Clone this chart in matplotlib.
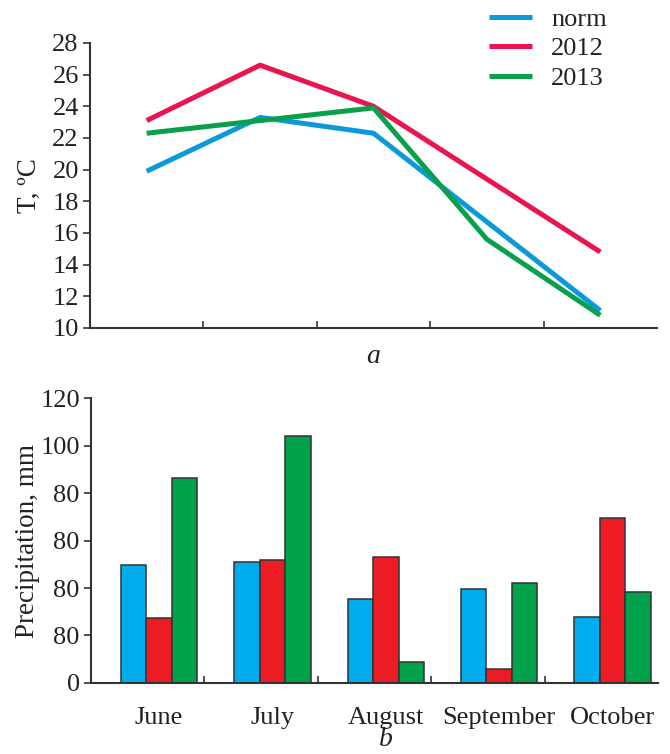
import matplotlib
matplotlib.use("Agg")
import matplotlib.pyplot as plt
import numpy as np

months = ["June", "July", "August", "September", "October"]
series = ["norm", "2012", "2013"]
temp_norm = [19.9, 23.3, 22.3, 16.7, 11.1]
temp_2012 = [23.1, 26.6, 24.0, 19.4, 14.8]
temp_2013 = [22.3, 23.1, 23.9, 15.6, 10.8]
prec_norm = [49.7, 51.1, 35.5, 39.4, 27.7]
prec_2012 = [27.5, 51.7, 53.2, 5.8, 69.3]
prec_2013 = [86.2, 104.0, 9.0, 42.1, 38.4]
temp_ticks = [10, 12, 14, 16, 18, 20, 22, 24, 26, 28]
prec_ticks = [0, 20, 40, 60, 80, 100, 120]
prec_ticklabels = ["0", "80", "80", "80", "80", "100", "120"]

line_colors = ["#0a9ad9", "#e8154f", "#08a04a"]
bar_colors = ["#00adef", "#ed1c24", "#00a14b"]

plt.rcParams["font.family"] = ["Liberation Serif", "DejaVu Serif"]
spine_c = "#333333"
txt_c = "#222222"
FS = 19

fig = plt.figure(figsize=(6.7, 7.54), dpi=100)
ax1 = fig.add_axes([0.1343, 0.565, 0.8463, 0.378])
ax2 = fig.add_axes([0.1358, 0.0942, 0.8462, 0.3778])

x = np.arange(len(months)) + 0.5
for vals, lab, c in zip([temp_norm, temp_2012, temp_2013], series, line_colors):
    ax1.plot(x, vals, color=c, lw=3.6, label=lab, solid_capstyle="butt")

ax1.set_xlim(0, 5)
ax1.set_ylim(10, 28)
ax1.set_yticks(temp_ticks)
ax1.set_xticks([1, 2, 3, 4])
ax1.set_xticklabels([])
ax1.tick_params(axis="x", direction="in", length=5, width=1.2, color=spine_c)
ax1.tick_params(axis="y", direction="out", length=5, width=1.2, color=spine_c,
                labelsize=FS, pad=3, labelcolor=txt_c)
ax1.set_ylabel("T, ºC", fontsize=FS + 0.5, color=txt_c)
ax1.yaxis.set_label_coords(-0.085, 0.5)
for s in ["top", "right"]:
    ax1.spines[s].set_visible(False)
for s in ["left", "bottom"]:
    ax1.spines[s].set_color(spine_c)
    ax1.spines[s].set_linewidth(1.5)

leg = ax1.legend(loc="upper left", bbox_to_anchor=(0.704, 1.125), frameon=False,
                 fontsize=FS, handlelength=1.63, handletextpad=0.72, labelspacing=0.23,
                 borderaxespad=0, borderpad=0)
for t in leg.get_texts():
    t.set_color(txt_c)

ax1.text(2.5, -0.1, "a", transform=ax1.get_xaxis_transform(), ha="center",
         va="center", fontsize=FS + 1, style="italic", color=txt_c)

w = 0.225
offs = [-w, 0, w]
xc = np.arange(len(months)) + 0.6
for vals, lab, c, o in zip([prec_norm, prec_2012, prec_2013], series, bar_colors, offs):
    ax2.bar(xc + o, vals, width=w, color=c, edgecolor="#333333", linewidth=1.1, label=lab)

ax2.set_xlim(0, 5)
ax2.set_ylim(0, 120)
ax2.set_yticks(prec_ticks)
ax2.set_yticklabels(prec_ticklabels)
ax2.set_xticks([1, 2, 3, 4])
ax2.set_xticklabels([])
ax2.set_xticks(xc, minor=True)
ax2.set_xticklabels(months, minor=True)
ax2.tick_params(axis="x", which="major", direction="in", length=5, width=1.2, color=spine_c)
ax2.tick_params(axis="x", which="minor", length=0, pad=17, labelsize=FS, labelcolor=txt_c)
ax2.tick_params(axis="y", direction="out", length=5, width=1.2, color=spine_c,
                labelsize=FS, pad=3, labelcolor=txt_c)
ax2.set_ylabel("Precipitation, mm", fontsize=FS + 0.5, color=txt_c)
ax2.yaxis.set_label_coords(-0.09, 0.5)
for s in ["top", "right"]:
    ax2.spines[s].set_visible(False)
for s in ["left", "bottom"]:
    ax2.spines[s].set_color(spine_c)
    ax2.spines[s].set_linewidth(1.5)

ax2.text(2.6, -0.2, "b", transform=ax2.get_xaxis_transform(), ha="center",
         va="center", fontsize=FS + 1, style="italic", color=txt_c)

fig.savefig("out.png", dpi=100)
